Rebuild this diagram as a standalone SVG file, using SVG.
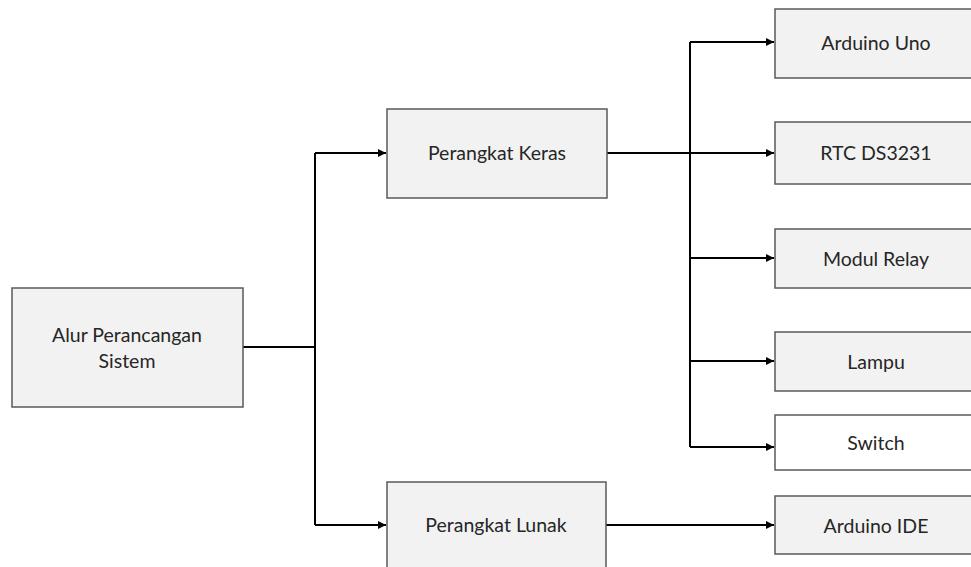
<svg xmlns="http://www.w3.org/2000/svg" width="971" height="567" viewBox="0 0 971 567">
<style>
.box{fill:#f2f2f2;stroke:#5a5a5a;stroke-width:1.5}
.white{fill:#ffffff}
.lbl{font-family:Lato,"Liberation Sans",sans-serif;font-size:19.5px;fill:#262626;text-anchor:middle}
.conn{fill:none;stroke:#000;stroke-width:2}
</style>
<defs>
<marker id="arr" viewBox="0 0 10 10" refX="10" refY="5" markerWidth="4" markerHeight="4" orient="auto" markerUnits="strokeWidth">
<path d="M0,0 L10,5 L0,10 z" fill="#000"/>
</marker>
</defs>
<rect width="971" height="567" fill="#fff"/>
<g id="connectors">
<path class="conn" d="M243,347 H315"/>
<path class="conn" d="M315,153 V525"/>
<path class="conn" d="M315,153 H386" marker-end="url(#arr)"/>
<path class="conn" d="M315,525 H386" marker-end="url(#arr)"/>
<path class="conn" d="M607,153 H774" marker-end="url(#arr)"/>
<path class="conn" d="M690,42 V447"/>
<path class="conn" d="M690,42 H774" marker-end="url(#arr)"/>
<path class="conn" d="M690,258 H774" marker-end="url(#arr)"/>
<path class="conn" d="M690,361 H774" marker-end="url(#arr)"/>
<path class="conn" d="M690,447 H774" marker-end="url(#arr)"/>
<path class="conn" d="M606,525 H774" marker-end="url(#arr)"/>
</g>
<g id="alur">
<rect class="box" x="12" y="288" width="231" height="119"/>
<text class="lbl" x="127" y="342">Alur Perancangan</text>
<text class="lbl" x="127" y="368">Sistem</text>
</g>
<g id="keras">
<rect class="box" x="387" y="109" width="220" height="89"/>
<text class="lbl" x="497" y="160">Perangkat Keras</text>
</g>
<g id="lunak">
<rect class="box" x="387" y="482" width="219" height="95"/>
<text class="lbl" x="496" y="532">Perangkat Lunak</text>
</g>
<g id="uno">
<rect class="box" x="775" y="9" width="202" height="69"/>
<text class="lbl" x="876" y="50">Arduino Uno</text>
</g>
<g id="rtc">
<rect class="box" x="775" y="122" width="202" height="62"/>
<text class="lbl" x="876" y="160">RTC DS3231</text>
</g>
<g id="relay">
<rect class="box" x="775" y="229" width="202" height="59"/>
<text class="lbl" x="876" y="266">Modul Relay</text>
</g>
<g id="lampu">
<rect class="box" x="775" y="332" width="202" height="59"/>
<text class="lbl" x="876" y="369">Lampu</text>
</g>
<g id="switch">
<rect class="box white" x="775" y="415" width="202" height="55"/>
<text class="lbl" x="876" y="450">Switch</text>
</g>
<g id="ide">
<rect class="box" x="775" y="496" width="202" height="58"/>
<text class="lbl" x="876" y="533">Arduino IDE</text>
</g>
</svg>
